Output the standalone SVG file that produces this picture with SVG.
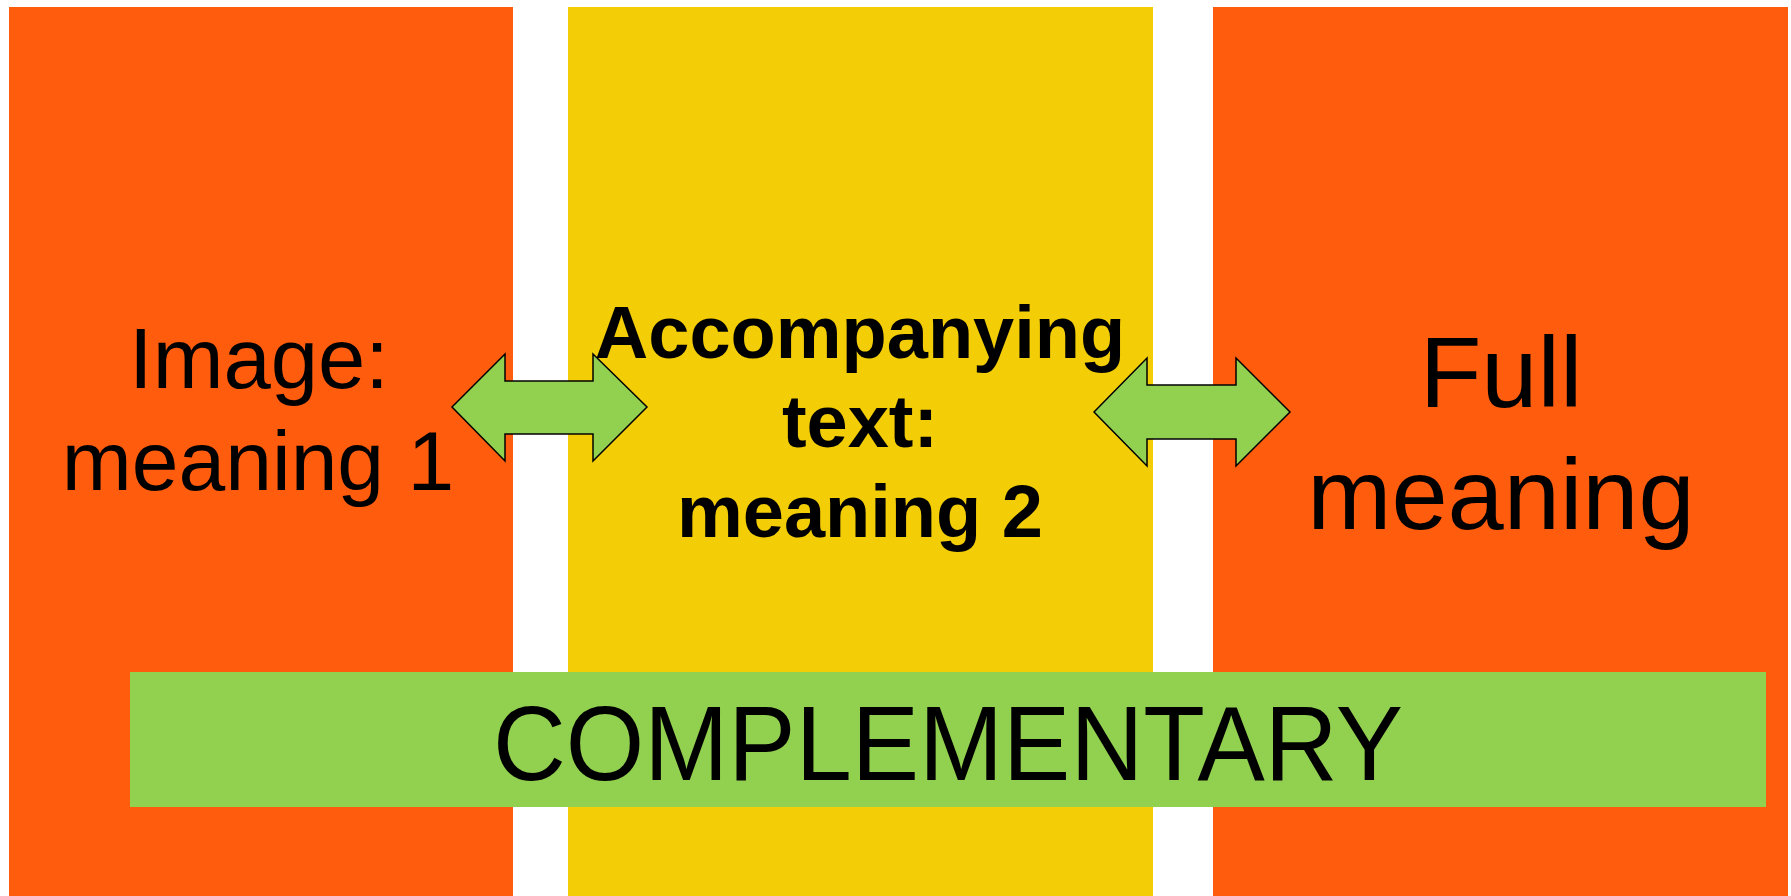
<svg xmlns="http://www.w3.org/2000/svg" width="1791" height="896" viewBox="0 0 1791 896">
<style>
.orange{fill:#FF5C0E}
.yellow{fill:#F3CD06}
.green{fill:#92D050}
.arrow{fill:#92D050;stroke:#000;stroke-width:1.5;stroke-linejoin:miter}
.t{font-family:"Liberation Sans",Arial,sans-serif;fill:#000;text-anchor:middle}
.b{font-weight:bold}
</style>
<rect width="1791" height="896" fill="#FFFFFF"/>
<g id="image-box">
<rect class="orange" x="9" y="7" width="504" height="889"/>
</g>
<g id="text-box">
<rect class="yellow" x="568" y="7" width="585" height="889"/>
</g>
<g id="full-box">
<rect class="orange" x="1213" y="7" width="575" height="889"/>
</g>
<g id="complementary">
<rect class="green" x="130" y="672" width="1636" height="135"/>
<text class="t" x="948" y="780" font-size="105" textLength="910" lengthAdjust="spacingAndGlyphs">COMPLEMENTARY</text>
</g>
<g id="connectors">
<polygon class="arrow" points="452,407 505,354 505,381 593,381 593,354 647,407 593,461 593,434 505,434 505,461"/>
<polygon class="arrow" points="1094,412 1147,358 1147,385 1236,385 1236,358 1290,412 1236,466 1236,439 1147,439 1147,466"/>
</g>
<g id="image-label">
<text class="t" x="259" y="388" font-size="85">Image:</text>
<text class="t" x="258" y="490" font-size="84">meaning 1</text>
</g>
<g id="text-label">
<text class="t b" x="860" y="358" font-size="74">Accompanying</text>
<text class="t b" x="860" y="447" font-size="74">text:</text>
<text class="t b" x="860" y="537" font-size="74">meaning 2</text>
</g>
<g id="full-label">
<text class="t" x="1501" y="407" font-size="101">Full</text>
<text class="t" x="1501" y="529" font-size="101">meaning</text>
</g>
</svg>
